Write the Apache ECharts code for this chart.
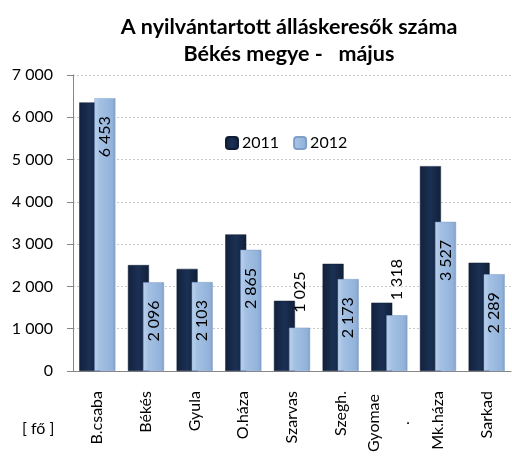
<!DOCTYPE html>
<html>
<head>
<meta charset="utf-8">
<script src="https://cdn.jsdelivr.net/npm/echarts@6/dist/echarts.min.js"></script>
<style>
  html, body { margin: 0; padding: 0; background: #fff; }
  #chart { width: 512px; height: 458px; }
</style>
</head>
<body>
<div id="chart"></div>
<script>
const categories = ['B.csaba', 'Békés', 'Gyula', 'O.háza', 'Szarvas', 'Szegh.', 'Gyomae\n.', 'Mk.háza', 'Sarkad']
const values2011 = [6350, 2505, 2415, 3230, 1660, 2535, 1615, 4845, 2560]
const values2012 = [6453, 2096, 2103, 2865, 1025, 2173, 1318, 3527, 2289]
const yTicks = [0, 1000, 2000, 3000, 4000, 5000, 6000, 7000]

const font = 'Lato, "Open Sans", sans-serif'

// ezres tagolás szóközzel: 6453 -> "6 453"
const fmt = v => String(v).replace(/\B(?=(\d{3})+(?!\d))/g, ' ')

const darkFill = new echarts.graphic.LinearGradient(0, 0, 1, 0, [
  { offset: 0, color: '#12213c' },
  { offset: 0.5, color: '#1b3054' },
  { offset: 1, color: '#11203a' }
])
const lightFill = new echarts.graphic.LinearGradient(0, 0, 1, 0, [
  { offset: 0, color: '#bcd2ed' },
  { offset: 0.25, color: '#a4c1e4' },
  { offset: 0.85, color: '#93b2da' },
  { offset: 1, color: '#7f9fc8' }
])

// rövid oszlopnál a felirat az oszlop fölé kerül
const data2012 = values2012.map(v => {
  const short = v < 1500
  return {
    value: v,
    label: short
      ? { position: 'top', align: 'left', distance: 15 }
      : { position: 'insideTop', align: 'right', distance: 18 }
  }
})

const chart = echarts.init(document.getElementById('chart'))
chart.setOption({
  animation: false,
  textStyle: { fontFamily: font },
  title: {
    text: 'A nyilvántartott álláskeresők száma\nBékés megye -   május',
    left: 284,
    top: 9,
    textAlign: 'center',
    textStyle: { fontFamily: font, fontSize: 21.5, fontWeight: 'bold', color: '#000', lineHeight: 27 }
  },
  legend: {
    left: 220,
    top: 130,
    itemWidth: 12,
    itemHeight: 12,
    itemGap: 14,
    textStyle: { fontFamily: font, fontSize: 16, color: '#000', padding: [0, 0, 0, -1] },
    data: ['2011', '2012']
  },
  grid: { left: 73, right: 1, top: 75, bottom: 84 },
  xAxis: {
    type: 'category',
    data: categories,
    axisLine: { lineStyle: { color: '#868686' } },
    axisTick: { length: 6, lineStyle: { color: '#868686' } },
    axisLabel: {
      rotate: 90,
      margin: 20,
      fontSize: 16,
      color: '#000',
      formatter: v => v.indexOf('\n') < 0 ? v : v.split('\n').map(s => '{c|' + s + '}').join('\n'),
      rich: { c: { fontFamily: font, fontSize: 16, width: 64, align: 'center', lineHeight: 30, color: '#000' } }
    }
  },
  yAxis: {
    type: 'value',
    min: yTicks[0],
    max: yTicks[yTicks.length - 1],
    interval: 1000,
    axisLine: { show: true, lineStyle: { color: '#868686' } },
    axisTick: { show: true, length: 6, lineStyle: { color: '#868686' } },
    axisLabel: { margin: 20, fontSize: 16, color: '#000', formatter: fmt },
    splitLine: { lineStyle: { color: '#c8c8c8', type: [2, 2] } }
  },
  graphic: [{
    type: 'text',
    left: 22,
    top: 421,
    style: { text: '[ fő ]', fontFamily: font, fontSize: 16, fill: '#000' }
  }],
  series: [
    {
      name: '2011',
      type: 'bar',
      barWidth: 21,
      barGap: '-28%',
      data: values2011,
      itemStyle: { color: darkFill, borderColor: '#0f1c33', borderWidth: 0.5 }
    },
    {
      name: '2012',
      type: 'bar',
      barWidth: 21,
      data: data2012,
      itemStyle: { color: lightFill, borderColor: '#7f9fc8', borderWidth: 0.5 },
      label: {
        show: true,
        rotate: 90,
        verticalAlign: 'middle',
        fontFamily: font,
        fontSize: 16,
        color: '#000',
        formatter: p => fmt(p.value)
      }
    }
  ]
})
</script>
</body>
</html>
